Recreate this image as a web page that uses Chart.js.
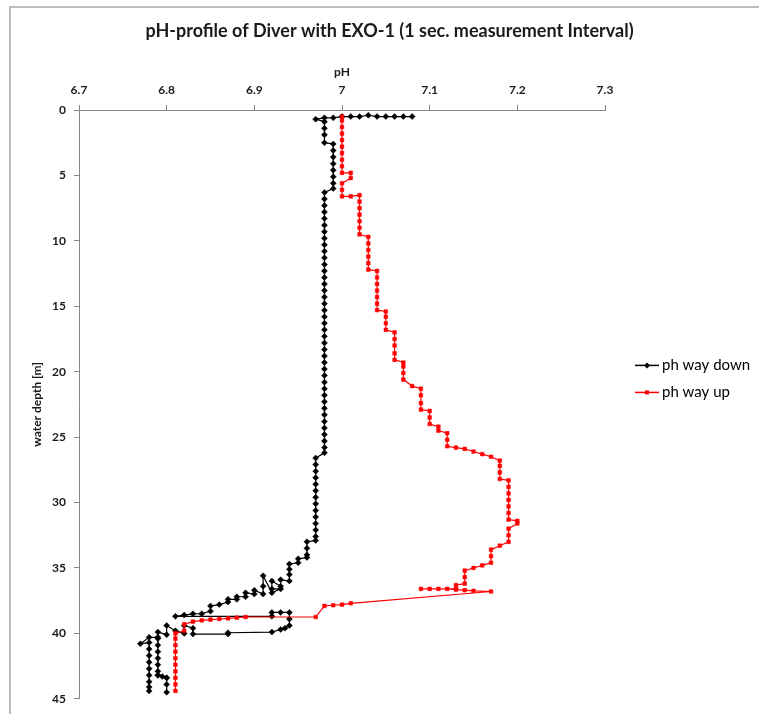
<!DOCTYPE html>
<html>
<head>
<meta charset="utf-8">
<script src="https://cdn.jsdelivr.net/npm/chart.js@4.4.1/dist/chart.umd.min.js"></script>
<style>
  html, body { margin: 0; padding: 0; background: #fff; }
  #wrap { width: 759px; height: 714px; }
</style>
</head>
<body>
<div id="wrap"><canvas id="chart" width="759" height="714"></canvas></div>
<script>
// Textos del gráfico
const chartTitle = 'pH-profile of Diver with EXO-1 (1 sec. measurement Interval)';
const xTitle = 'pH';
const yTitle = 'water depth [m]';
const seriesNames = ['ph way down', 'ph way up'];

// Etiquetas de los ejes
const xTicks = ['6.7', '6.8', '6.9', '7', '7.1', '7.2', '7.3'];
const yTicks = ['0', '5', '10', '15', '20', '25', '30', '35', '40', '45'];

// Bajada (pH y profundidad)
const downPH = [
  7.08, 7.07, 7.06, 7.05, 7.04, 7.03, 7.02, 7.01, 7.00, 6.99, 6.98, 6.97,
  6.98, 6.98, 6.98, 6.98,
  6.99, 6.99, 6.99, 6.99, 6.99, 6.99, 6.99, 6.99,
  6.98, 6.98, 6.98, 6.98, 6.98, 6.98, 6.98, 6.98, 6.98, 6.98, 6.98,
  6.98, 6.98, 6.98, 6.98, 6.98, 6.98, 6.98, 6.98, 6.98, 6.98,
  6.98, 6.98, 6.98, 6.98, 6.98, 6.98, 6.98, 6.98, 6.98, 6.98,
  6.98, 6.98, 6.98, 6.98, 6.98, 6.98, 6.98, 6.98, 6.98, 6.98,
  6.97, 6.97, 6.97, 6.97, 6.97, 6.97, 6.97, 6.97, 6.97, 6.97, 6.97, 6.97, 6.97, 6.97,
  6.96, 6.96, 6.96, 6.96,
  6.95, 6.95,
  6.94, 6.94, 6.94, 6.94,
  6.93, 6.93, 6.92, 6.92, 6.93, 6.92, 6.91, 6.91, 6.91, 6.90, 6.90, 6.89,
  6.89, 6.88, 6.88, 6.87, 6.87, 6.86, 6.85, 6.85, 6.84, 6.83, 6.82, 6.81,
  6.92, 6.92, 6.93, 6.94, 6.94, 6.94, 6.935, 6.93, 6.92, 6.87, 6.87, 6.83,
  6.83, 6.82, 6.82, 6.81, 6.80, 6.80, 6.79,
  6.79, 6.79, 6.79, 6.79, 6.79, 6.79, 6.79,
  6.795, 6.80, 6.80, 6.80, 6.80, 6.79, 6.79,
  6.78, 6.77, 6.78, 6.78, 6.78, 6.78, 6.78, 6.78, 6.78, 6.78, 6.78
];
const downDepth = [
  0.5, 0.5, 0.5, 0.5, 0.5, 0.4, 0.5, 0.5, 0.5, 0.6, 0.6, 0.7,
  0.9, 1.4, 1.9, 2.5,
  2.6, 3.1, 3.6, 4.1, 4.6, 5.1, 5.6, 6.0,
  6.3, 6.8, 7.3, 7.8, 8.3, 8.8, 9.3, 9.8, 10.3, 10.8, 11.3,
  11.8, 12.3, 12.8, 13.3, 13.8, 14.3, 14.8, 15.3, 15.8, 16.3,
  16.8, 17.3, 17.8, 18.3, 18.8, 19.3, 19.8, 20.3, 20.8, 21.3,
  21.8, 22.3, 22.8, 23.3, 23.8, 24.3, 24.8, 25.3, 25.8, 26.2,
  26.6, 27.1, 27.6, 28.1, 28.6, 29.1, 29.6, 30.1, 30.6, 31.1, 31.6, 32.1, 32.6, 32.9,
  33.0, 33.5, 34.0, 34.2,
  34.3, 34.6,
  34.7, 35.1, 35.5, 36.0,
  35.9, 36.4, 36.0, 36.6, 36.6, 36.9, 35.6, 36.4, 37.0, 36.7, 37.0, 36.9,
  37.2, 37.2, 37.4, 37.4, 37.6, 37.8, 37.9, 38.3, 38.5, 38.5, 38.6, 38.7,
  38.7, 38.4, 38.4, 38.4, 38.9, 39.4, 39.6, 39.7, 39.9, 39.95, 40.05, 40.05,
  39.6, 39.4, 40.0, 39.8, 39.4, 40.1, 39.9,
  40.4, 40.9, 41.4, 41.9, 42.4, 42.9, 43.2,
  43.3, 43.4, 43.9, 44.5, 43.4, 43.2, 40.3,
  40.3, 40.8, 40.7, 41.2, 41.7, 42.2, 42.7, 43.2, 43.7, 44.1, 44.4
];

// Subida (pH y profundidad), desde el fondo hacia la superficie
const upPH = [
  6.81, 6.81, 6.81, 6.81, 6.81, 6.81, 6.81, 6.81, 6.81, 6.81,
  6.82, 6.82, 6.83, 6.84, 6.85, 6.86, 6.87, 6.88, 6.89, 6.97,
  6.98, 6.99, 7.00, 7.01, 7.17,
  7.15, 7.14, 7.13, 7.12, 7.11, 7.10, 7.09, 7.13, 7.13,
  7.14, 7.14, 7.14, 7.15, 7.16, 7.17, 7.17, 7.17, 7.18,
  7.19, 7.19, 7.19, 7.20, 7.20, 7.19, 7.19, 7.19, 7.19, 7.19, 7.19, 7.19,
  7.18, 7.18, 7.18, 7.18, 7.17, 7.16, 7.15, 7.14, 7.13, 7.12,
  7.12, 7.12, 7.11, 7.11, 7.10, 7.10, 7.10, 7.09, 7.09, 7.09, 7.09, 7.08,
  7.07, 7.07, 7.07, 7.07, 7.06, 7.06, 7.06, 7.06, 7.06, 7.05, 7.05, 7.05, 7.05,
  7.04, 7.04, 7.04, 7.04, 7.04, 7.04, 7.04, 7.03, 7.03, 7.03, 7.03, 7.03, 7.03,
  7.02, 7.02, 7.02, 7.02, 7.02, 7.02, 7.02, 7.01, 7.00, 7.00, 7.00, 7.01, 7.01,
  7.00, 7.00, 7.00, 7.00, 7.00, 7.00, 7.00, 7.00, 7.00, 7.00
];
const upDepth = [
  44.4, 43.9, 43.4, 42.9, 42.4, 41.9, 41.4, 40.9, 40.4, 40.0,
  39.8, 39.3, 39.1, 39.0, 38.95, 38.9, 38.85, 38.8, 38.75, 38.75,
  37.9, 37.85, 37.8, 37.7, 36.8,
  36.75, 36.7, 36.65, 36.6, 36.6, 36.6, 36.6, 36.6, 36.3,
  36.2, 35.7, 35.2, 35.0, 34.8, 34.6, 34.1, 33.6, 33.3,
  33.0, 32.5, 32.0, 31.6, 31.4, 31.3, 30.8, 30.3, 29.8, 29.3, 28.8, 28.3,
  28.2, 27.7, 27.2, 26.8, 26.5, 26.3, 26.1, 25.9, 25.8, 25.7,
  25.2, 24.7, 24.5, 24.2, 24.0, 23.5, 23.0, 22.9, 22.4, 21.8, 21.3, 21.1,
  20.6, 20.1, 19.6, 19.3, 19.1, 18.6, 18.0, 17.5, 17.0, 16.8, 16.3, 15.8, 15.4,
  15.3, 14.8, 14.3, 13.8, 13.3, 12.8, 12.3, 12.2, 11.7, 11.2, 10.7, 10.2, 9.7,
  9.5, 9.0, 8.5, 8.0, 7.5, 7.0, 6.5, 6.6, 6.6, 6.1, 5.6, 5.2, 4.8,
  4.8, 4.3, 3.8, 3.3, 2.8, 2.3, 1.8, 1.3, 0.8, 0.5
];

function toPoints(xs, ys) {
  return xs.map((x, i) => ({ x: x, y: ys[i] }));
}

// Busca la etiqueta que corresponde al valor del tick
function tickLabel(list, v) {
  return list.find(t => Math.abs(Number(t) - v) < 1e-6) || '';
}

const FONT = 'Lato, "Open Sans", "DejaVu Sans", sans-serif';
const axisGray = '#868686';

// Fondo blanco y marco gris del gráfico
const framePlugin = {
  id: 'frame',
  beforeDraw(chart) {
    const ctx = chart.ctx;
    ctx.save();
    ctx.fillStyle = '#fff';
    ctx.fillRect(0, 0, chart.width, chart.height);
    ctx.strokeStyle = '#a6a6a6';
    ctx.lineWidth = 1.5;
    ctx.strokeRect(10, 7, chart.width + 20, chart.height + 20);
    ctx.restore();
  }
};

// Leyenda dibujada a la derecha, con línea y marcador
const legendPlugin = {
  id: 'sideLegend',
  afterDraw(chart) {
    const ctx = chart.ctx;
    const area = chart.chartArea;
    const x0 = area.right + 30;
    const yMid = (area.top + area.bottom) / 2 - 39;
    ctx.save();
    chart.data.datasets.forEach((ds, i) => {
      const y = yMid + i * 27;
      ctx.strokeStyle = ds.borderColor;
      ctx.lineWidth = 1.5;
      ctx.beginPath();
      ctx.moveTo(x0, y);
      ctx.lineTo(x0 + 24, y);
      ctx.stroke();
      ctx.fillStyle = ds.backgroundColor;
      ctx.beginPath();
      if (ds.pointStyle === 'rectRot') {
        ctx.moveTo(x0 + 12, y - 3);
        ctx.lineTo(x0 + 15, y);
        ctx.lineTo(x0 + 12, y + 3);
        ctx.lineTo(x0 + 9, y);
        ctx.closePath();
      } else {
        ctx.rect(x0 + 10, y - 2, 4, 4);
      }
      ctx.fill();
      ctx.fillStyle = '#000';
      ctx.font = '15px ' + FONT;
      ctx.textBaseline = 'middle';
      ctx.textAlign = 'left';
      ctx.fillText(ds.label, x0 + 27, y);
    });
    ctx.restore();
  }
};

const ctx = document.getElementById('chart').getContext('2d');
const chart = new Chart(ctx, {
  type: 'scatter',
  data: {
    datasets: [{
      label: seriesNames[0],
      data: toPoints(downPH, downDepth),
      showLine: true,
      borderColor: '#000000',
      backgroundColor: '#000000',
      borderWidth: 1.2,
      pointStyle: 'rectRot',
      pointRadius: 3,
      pointBorderWidth: 0.5,
      tension: 0,
      order: 2
    }, {
      label: seriesNames[1],
      data: toPoints(upPH, upDepth),
      showLine: true,
      borderColor: '#ff0000',
      backgroundColor: '#ff0000',
      borderWidth: 1.2,
      pointStyle: 'rect',
      pointRadius: 2.6,
      pointBorderWidth: 0.5,
      tension: 0,
      order: 1
    }]
  },
  options: {
    responsive: false,
    animation: false,
    devicePixelRatio: 1,
    layout: { padding: { left: 20, right: 0, top: 0, bottom: 14 } },
    plugins: {
      legend: { display: false },
      tooltip: { enabled: false },
      title: {
        display: true,
        text: chartTitle,
        color: '#1a1a1a',
        font: { family: FONT, size: 18, weight: 'bold' },
        padding: { top: 20, bottom: 8 }
      }
    },
    scales: {
      x: {
        type: 'linear',
        position: 'top',
        min: 6.7,
        max: 7.3,
        ticks: {
          stepSize: 0.1,
          padding: 8,
          color: '#1a1a1a',
          font: { family: FONT, size: 12, weight: 'bold' },
          callback: v => tickLabel(xTicks, v)
        },
        grid: { drawOnChartArea: false, drawTicks: true, tickLength: 5, color: axisGray },
        border: { display: true, color: axisGray, width: 1 },
        title: {
          display: true,
          text: xTitle,
          color: '#1a1a1a',
          font: { family: FONT, size: 12, weight: 'bold' },
          padding: { top: 15, bottom: 0 }
        },
        afterFit(scale) { scale.height = 60.4; }
      },
      y: {
        type: 'linear',
        position: 'left',
        reverse: true,
        min: 0,
        max: 45,
        ticks: {
          stepSize: 5,
          padding: 8,
          color: '#1a1a1a',
          font: { family: FONT, size: 12, weight: 'bold' },
          callback: v => tickLabel(yTicks, v)
        },
        grid: { drawOnChartArea: false, drawTicks: true, tickLength: 5, color: axisGray },
        border: { display: true, color: axisGray, width: 1 },
        title: {
          display: true,
          text: yTitle,
          color: '#1a1a1a',
          font: { family: FONT, size: 12, weight: 'bold' },
          padding: { top: 10, bottom: 0 }
        },
        afterFit(scale) { scale.width = 59; }
      },
      // espacio reservado a la derecha para la leyenda
      side: {
        type: 'linear',
        position: 'right',
        display: true,
        ticks: { display: false },
        grid: { display: false },
        border: { display: false },
        afterFit(scale) { scale.width = 154; }
      }
    }
  },
  plugins: [framePlugin, legendPlugin]
});
</script>
</body>
</html>
